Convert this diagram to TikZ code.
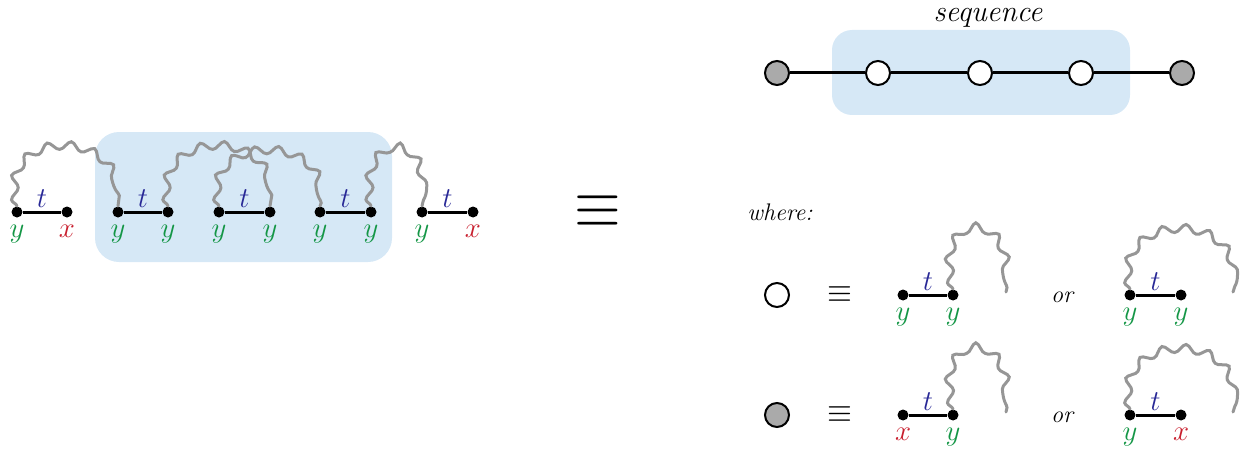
\documentclass[tikz,border=0pt]{standalone}
\usetikzlibrary{decorations.pathmorphing}
\usepackage{graphicx}

\definecolor{seqblue}{RGB}{214,232,246}
\definecolor{wiggray}{RGB}{150,150,150}
\definecolor{ygreen}{RGB}{20,150,70}
\definecolor{xred}{RGB}{200,30,45}
\definecolor{tblue}{RGB}{40,40,150}
\definecolor{dotgray}{RGB}{170,170,170}

\begin{document}
\begin{tikzpicture}[
    x=0.5pt, y=-0.5pt,
    dot/.style={circle,fill=black,inner sep=0pt,minimum size=5.5pt},
    ylab/.style={text=ygreen,font=\fontsize{13.5}{15}\selectfont,label distance=1.5pt,inner sep=2pt},
    xlab/.style={text=xred,font=\fontsize{13.5}{15}\selectfont,label distance=1.5pt,inner sep=2pt},
    tlab/.style={above,text=tblue,font=\fontsize{14}{16}\selectfont,inner sep=1.5pt},
    edge/.style={line width=1.5pt},
    wig/.style={draw=wiggray,line width=1.5pt,line cap=round,decorate,
      decoration={snake,segment length=11.5pt,amplitude=2pt}},
    seqnode/.style={circle,draw,line width=1pt,inner sep=0pt,minimum size=12pt},
    itext/.style={font=\fontsize{12}{14}\selectfont\itshape}
    ]
    \useasboundingbox (0,0) rectangle (1246,449);

    % shaded blocks
    \fill [seqblue, rounded corners=12pt] (95,132) rectangle (392,262);
    \fill [seqblue, rounded corners=10pt] (832,30) rectangle (1130,115);

    % left chain
    \node (p1l) at (17,212) [dot, label={[ylab]below:$y$}] {};
    \node (p1r) at (67,212) [dot, label={[xlab]below:$x$}] {};
    \node (p2l) at (118,212) [dot, label={[ylab]below:$y$}] {};
    \node (p2r) at (168,212) [dot, label={[ylab]below:$y$}] {};
    \node (p3l) at (219,212) [dot, label={[ylab]below:$y$}] {};
    \node (p3r) at (270,212) [dot, label={[ylab]below:$y$}] {};
    \node (p4l) at (320,212) [dot, label={[ylab]below:$y$}] {};
    \node (p4r) at (371,212) [dot, label={[ylab]below:$y$}] {};
    \node (p5l) at (422,212) [dot, label={[ylab]below:$y$}] {};
    \node (p5r) at (473,212) [dot, label={[xlab]below:$x$}] {};
    \draw [edge] (p1l) -- node [tlab] {$t$} (p1r);
    \draw [edge] (p2l) -- node [tlab] {$t$} (p2r);
    \draw [edge] (p3l) -- node [tlab] {$t$} (p3r);
    \draw [edge] (p4l) -- node [tlab] {$t$} (p4r);
    \draw [edge] (p5l) -- node [tlab] {$t$} (p5r);
    \draw [wig] (p1l.north) .. controls (0,130) and (130,135) .. (p2l.north);
    \draw [wig] (p2r.north) .. controls (155,130) and (285,135) .. (p3r.north);
    \draw [wig] (p3l.north) .. controls (205,137) and (335,140) .. (p4l.north);
    \draw [wig] (p4r.north) .. controls (360,135) and (435,135) .. (p5l.north);

    \node (eqbig) at (598,212) {\scalebox{3}[3.4]{$\equiv$}};

    % sequence
    \node (seqlab) at (988,18) [inner sep=0pt, font=\fontsize{15}{17}\selectfont\itshape] {sequence};
    \node (g1) at (777,73) [seqnode, fill=dotgray] {};
    \node (w1) at (878,73) [seqnode, fill=white] {};
    \node (w2) at (980,73) [seqnode, fill=white] {};
    \node (w3) at (1081,73) [seqnode, fill=white] {};
    \node (g2) at (1182,73) [seqnode, fill=dotgray] {};
    \draw [edge] (g1) -- (w1) -- (w2) -- (w3) -- (g2);

    \node (where) at (780,212) [itext] {where:};

    % white circle
    \node (wleg) at (777,295) [seqnode, fill=white] {};
    \node (eq1) at (840,295) {\scalebox{1.6}[1.7]{$\equiv$}};
    \node (a1l) at (903,295) [dot, label={[ylab]below:$y$}] {};
    \node (a1r) at (953,295) [dot, label={[ylab]below:$y$}] {};
    \draw [edge] (a1l) -- node [tlab] {$t$} (a1r);
    \coordinate (e1) at (1006,292);
    \draw [wig] (a1r.north) .. controls (935,212) and (1020,215) .. (e1);
    \node (or1) at (1062,297) [itext] {or};
    \node (b1l) at (1130,295) [dot, label={[ylab]below:$y$}] {};
    \node (b1r) at (1181,295) [dot, label={[ylab]below:$y$}] {};
    \draw [edge] (b1l) -- node [tlab] {$t$} (b1r);
    \coordinate (f1) at (1233,292);
    \draw [wig] (b1l.north) .. controls (1115,215) and (1250,215) .. (f1);

    % grey circle
    \node (gleg) at (777,415) [seqnode, fill=dotgray] {};
    \node (eq2) at (840,415) {\scalebox{1.6}[1.7]{$\equiv$}};
    \node (a2l) at (903,415) [dot, label={[xlab]below:$x$}] {};
    \node (a2r) at (953,415) [dot, label={[ylab]below:$y$}] {};
    \draw [edge] (a2l) -- node [tlab] {$t$} (a2r);
    \coordinate (e2) at (1006,412);
    \draw [wig] (a2r.north) .. controls (935,332) and (1020,335) .. (e2);
    \node (or2) at (1062,417) [itext] {or};
    \node (b2l) at (1130,415) [dot, label={[ylab]below:$y$}] {};
    \node (b2r) at (1181,415) [dot, label={[xlab]below:$x$}] {};
    \draw [edge] (b2l) -- node [tlab] {$t$} (b2r);
    \coordinate (f2) at (1233,412);
    \draw [wig] (b2l.north) .. controls (1115,335) and (1250,335) .. (f2);
  \end{tikzpicture}
\end{document}
